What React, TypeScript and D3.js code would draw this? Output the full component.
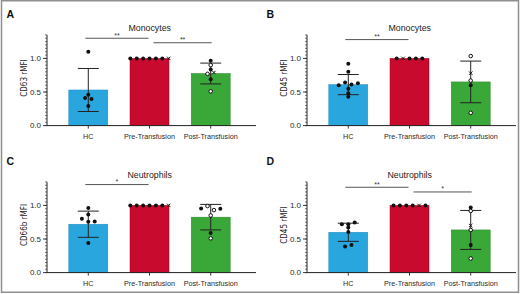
import React from 'react';
import * as d3 from 'd3';

const W = 520;
const H = 294;

const CATEGORIES = ['HC', 'Pre-Transfusion', 'Post-Transfusion'];
const BAR_COLORS = ['#2aa6df', '#c70a2e', '#3aa838'];
const BAR_STROKES = ['#1f8cc0', '#a8001f', '#2e8a2c'];

const PANEL_LETTERS = ['A', 'B', 'C', 'D'];
const PANEL_TITLES = ['Monocytes', 'Monocytes', 'Neutrophils', 'Neutrophils'];
const Y_TITLES = ['CD63 rMFI', 'CD45 rMFI', 'CD66b rMFI', 'CD45 rMFI'];

const Y_TICKS = [0, 0.5, 1.0];
const Y_TICK_LABELS = ['0.0', '0.5', '1.0'];
const Y_MAX = 1.35;

// means and SDs (HC, Pre, Post) per panel
const MEANS_A = [0.53, 1.0, 0.775];
const SDS_A = [0.32, 0, 0.155];
const MEANS_B = [0.61, 1.0, 0.65];
const SDS_B = [0.15, 0, 0.31];
const MEANS_C = [0.72, 1.0, 0.825];
const SDS_C = [0.195, 0, 0.19];
const MEANS_D = [0.6, 1.0, 0.635];
const SDS_D = [0.135, 0, 0.29];

// individual values; markers: f = filled circle, o = open circle, x = cross
const A_HC = [1.1, 0.46, 0.41, 0.395, 0.29];
const A_HC_M = ['f', 'f', 'f', 'f', 'f'];
const A_PRE = [1, 1, 1, 1, 1, 1, 1];
const A_PRE_M = ['f', 'f', 'f', 'f', 'f', 'f', 'x'];
const A_POST = [0.966, 0.9, 0.836, 0.77, 0.79, 0.69, 0.51];
const A_POST_M = ['f', 'o', 'f', 'o', 'x', 'f', 'o'];

const B_HC = [0.92, 0.8, 0.6, 0.64, 0.61, 0.63, 0.55, 0.48, 0.43];
const B_HC_M = ['f', 'f', 'f', 'f', 'f', 'f', 'f', 'f', 'f'];
const B_PRE = [1, 1, 1, 1, 1];
const B_PRE_M = ['f', 'x', 'f', 'f', 'f'];
const B_POST = [1.035, 0.78, 0.67, 0.6, 0.19];
const B_POST_M = ['o', 'x', 'o', 'f', 'o'];

const C_HC = [0.96, 0.865, 0.8, 0.757, 0.762, 0.44];
const C_HC_M = ['f', 'f', 'f', 'f', 'f', 'f'];
const C_PRE = [1, 1, 1, 1, 1, 1, 1];
const C_PRE_M = ['f', 'f', 'f', 'f', 'f', 'f', 'x'];
const C_POST = [0.955, 0.99, 0.93, 0.95, 0.85, 0.59, 0.51];
const C_POST_M = ['f', 'o', 'o', 'f', 'o', 'f', 'o'];

const D_HC = [0.72, 0.72, 0.745, 0.67, 0.605, 0.39, 0.41];
const D_HC_M = ['f', 'f', 'f', 'f', 'f', 'f', 'f'];
const D_PRE = [1, 1, 1, 1, 1, 1];
const D_PRE_M = ['f', 'f', 'f', 'f', 'x', 'f'];
const D_POST = [0.97, 0.917, 0.7, 0.634, 0.41, 0.21];
const D_POST_M = ['f', 'o', 'x', 'o', 'f', 'o'];

// significance brackets: [fromIndex, toIndex, label, level]
const SIG_A = [[0, 1, '**', 1.3], [1, 2, '**', 1.233]];
const SIG_B = [[0, 1, '**', 1.28]];
const SIG_C = [[0, 1, '*', 1.31]];
const SIG_D = [[0, 1, '**', 1.27], [1, 2, '*', 1.2]];

const PANELS = [
  { means: MEANS_A, sds: SDS_A, pts: [A_HC, A_PRE, A_POST], mk: [A_HC_M, A_PRE_M, A_POST_M], sig: SIG_A },
  { means: MEANS_B, sds: SDS_B, pts: [B_HC, B_PRE, B_POST], mk: [B_HC_M, B_PRE_M, B_POST_M], sig: SIG_B },
  { means: MEANS_C, sds: SDS_C, pts: [C_HC, C_PRE, C_POST], mk: [C_HC_M, C_PRE_M, C_POST_M], sig: SIG_C },
  { means: MEANS_D, sds: SDS_D, pts: [D_HC, D_PRE, D_POST], mk: [D_HC_M, D_PRE_M, D_POST_M], sig: SIG_D },
];

const FONT = "'Liberation Sans', Arial, Helvetica, sans-serif";
const NARROW = "'Liberation Sans Narrow', 'DejaVu Sans Condensed', 'Liberation Sans', Arial, sans-serif";

function rowOffsets(vals: number[], y: (v: number) => number, spacing: number, thr: number) {
  const idx = vals.map((_, i) => i).sort((a, b) => vals[b] - vals[a]);
  const rows: number[][] = [];
  let cur: number[] = [];
  let last: number | null = null;
  idx.forEach((i) => {
    const py = y(vals[i]);
    if (last !== null && Math.abs(py - last) < thr) cur.push(i);
    else {
      if (cur.length) rows.push(cur);
      cur = [i];
    }
    last = py;
  });
  if (cur.length) rows.push(cur);
  const off = new Array(vals.length).fill(0);
  rows.forEach((r) => {
    r.sort((a, b) => a - b);
    const n = r.length;
    r.forEach((i, k) => {
      off[i] = (k - (n - 1) / 2) * spacing;
    });
  });
  return off;
}

function Marker({ x, y, m }: { x: number; y: number; m: string }) {
  if (m === 'o') return <circle cx={x} cy={y} r={1.8} fill="#fff" stroke="#111" strokeWidth={1} />;
  if (m === 'x') {
    const s = 1.7;
    return (
      <g stroke="#111" strokeWidth={1}>
        <line x1={x - s} y1={y - s} x2={x + s} y2={y + s} />
        <line x1={x - s} y1={y + s} x2={x + s} y2={y - s} />
      </g>
    );
  }
  return <circle cx={x} cy={y} r={2} fill="#111" />;
}

function Panel({ index }: { index: number }) {
  const p = PANELS[index];
  const ox = (index % 2) * 260;
  const oy = Math.floor(index / 2) * 147;
  const axisX = ox + 47;
  const y = d3.scaleLinear().domain([0, 1]).range([oy + 125.6, oy + 58.4]);
  const x = d3
    .scaleBand<string>()
    .domain(CATEGORIES)
    .range([axisX, axisX + 205])
    .paddingInner(0.363)
    .paddingOuter(0.356);
  const bw = x.bandwidth();
  const cx = (c: string) => (x(c) as number) + bw / 2;
  const minor = d3.range(0, Y_MAX + 1e-9, 0.05);

  return (
    <g>
      <text x={ox + 6.5} y={oy + 17.5} fontFamily={FONT} fontWeight="bold" fontSize={10.5} fill="#111">
        {PANEL_LETTERS[index]}
      </text>
      <text x={ox + 149.7} y={oy + 30.5} fontFamily={FONT} fontSize={8.8} fill="#222" textAnchor="middle">
        {PANEL_TITLES[index]}
      </text>
      {CATEGORIES.map((c, i) => (
        <rect
          key={'b' + i}
          x={x(c)}
          y={y(p.means[i])}
          width={bw}
          height={y(0) - y(p.means[i])}
          fill={BAR_COLORS[i]}
          stroke={BAR_STROKES[i]}
          strokeWidth={0.5}
        />
      ))}
      {CATEGORIES.map((c, i) => {
        const xc = cx(c);
        const hi = y(p.means[i] + p.sds[i]);
        const lo = y(p.means[i] - p.sds[i]);
        if (p.sds[i] === 0) return null;
        return (
          <g key={'e' + i} stroke="#222" strokeWidth={1}>
            <line x1={xc} x2={xc} y1={hi} y2={lo} />
            <line x1={xc - 10.5} x2={xc + 10.5} y1={hi} y2={hi} />
            <line x1={xc - 10.5} x2={xc + 10.5} y1={lo} y2={lo} />
          </g>
        );
      })}
      {CATEGORIES.map((c, i) => {
        const vals = p.pts[i];
        const off = rowOffsets(vals, y, 6.4, 3);
        const xc = cx(c);
        return (
          <g key={'p' + i}>
            {vals.map((v, k) => (
              <Marker key={k} x={xc + off[k]} y={y(v)} m={p.mk[i][k]} />
            ))}
          </g>
        );
      })}
      <line x1={axisX} x2={axisX} y1={y(0)} y2={y(Y_MAX)} stroke="#222" strokeWidth={1} />
      {minor.map((t, k) => (
        <line key={'m' + k} x1={axisX - 2} x2={axisX} y1={y(t)} y2={y(t)} stroke="#222" strokeWidth={0.6} />
      ))}
      {Y_TICKS.map((t, k) => (
        <g key={'t' + k}>
          <line x1={axisX - 4} x2={axisX} y1={y(t)} y2={y(t)} stroke="#222" strokeWidth={0.9} />
          <text x={axisX - 6} y={y(t)} dy="0.35em" textAnchor="end" fontFamily={FONT} fontSize={8} fill="#2a2a2a">
            {Y_TICK_LABELS[k]}
          </text>
        </g>
      ))}
      <text
        transform={`translate(${ox + 24},${oy + 78}) rotate(-90)`}
        textAnchor="middle"
        dy="0.35em"
        fontFamily={NARROW}
        fontSize={8}
        fill="#222"
      >
        {Y_TITLES[index]}
      </text>
      <line x1={axisX} x2={ox + 256} y1={y(0)} y2={y(0)} stroke="#222" strokeWidth={1} />
      {CATEGORIES.map((c, i) => (
        <g key={'x' + i}>
          <line x1={cx(c)} x2={cx(c)} y1={y(0)} y2={y(0) + 3} stroke="#222" strokeWidth={0.9} />
          <text x={cx(c)} y={oy + 138.6} textAnchor="middle" fontFamily={FONT} fontSize={7.2} fill="#2a2a2a">
            {c}
          </text>
        </g>
      ))}
      {p.sig.map((s, k) => {
        const [a, b, label, level] = s as [number, number, string, number];
        const x1 = cx(CATEGORIES[a]) + (a === 0 ? -3 : 4);
        const x2 = cx(CATEGORIES[b]) + (a === 0 ? -1 : 1);
        const yy = y(level);
        return (
          <g key={'s' + k}>
            <line x1={x1} x2={x2} y1={yy} y2={yy} stroke="#555" strokeWidth={1} />
            <text x={(x1 + x2) / 2} y={yy - 0.5} textAnchor="middle" fontFamily={FONT} fontSize={7} fill="#333">
              {label}
            </text>
          </g>
        );
      })}
    </g>
  );
}

export default function App() {
  return (
    <svg
      width={W}
      height={H}
      viewBox={`0 0 ${W} ${H}`}
      style={{ position: 'absolute', left: 0, top: 0, background: '#fff' }}
    >
      <rect x={0} y={0} width={W} height={H} fill="#fff" />
      {[0, 1, 2, 3].map((i) => (
        <Panel key={i} index={i} />
      ))}
      <rect x={1.5} y={0.75} width={517} height={291.5} fill="none" stroke="#8f8f8f" strokeWidth={1.5} />
    </svg>
  );
}
